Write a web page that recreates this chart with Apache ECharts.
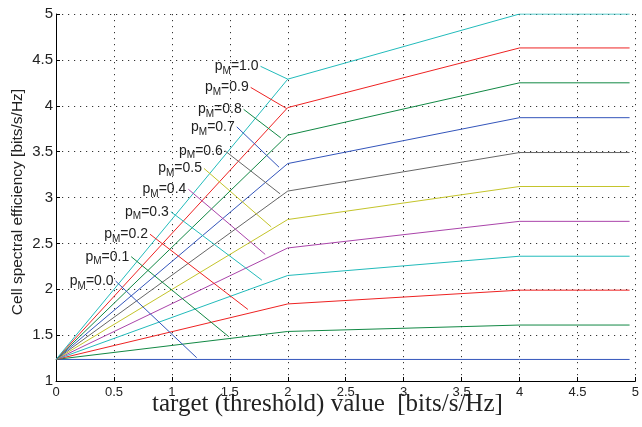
<!DOCTYPE html>
<html>
<head>
<meta charset="utf-8">
<script src="https://cdn.jsdelivr.net/npm/echarts@6/dist/echarts.min.js"></script>
<style>html,body{margin:0;padding:0;background:#fff}#c{width:642px;height:427px}</style>
</head>
<body>
<div id="c"></div>
<script>
// Data
const pmLabels = ['0.0','0.1','0.2','0.3','0.4','0.5','0.6','0.7','0.8','0.9','1.0'];
const xPoints = [0, 2, 4, 4.95];
const yAt0 = [1.235,1.235,1.235,1.235,1.235,1.235,1.235,1.235,1.235,1.235,1.235];
const yAt2 = [1.235,1.54,1.84,2.15,2.45,2.76,3.07,3.37,3.68,3.98,4.29];
const yAt4 = [1.235,1.61,1.99,2.36,2.74,3.12,3.49,3.87,4.25,4.63,5.00];
// annotation leader lines: start (label end) and end (on curve)
const annStartX = [0.514,0.649,0.811,0.991,1.142,1.277,1.457,1.56,1.62,1.68,1.765];
const annStartY = [2.09,2.355,2.60,2.845,3.09,3.317,3.51,3.77,3.96,4.20,4.43];
const annEndX   = [1.214,1.491,1.656,1.776,1.805,1.857,1.934,1.925,1.94,1.99,2.0];
const annEndY   = [1.254,1.483,1.78,2.10,2.38,2.68,3.04,3.33,3.65,3.97,4.29];
const xTicks = ['0','0.5','1','1.5','2','2.5','3','3.5','4','4.5','5'];

const colors = ['#3355bb','#118844','#ee2222','#22bbbb','#aa44aa','#c4c42a','#666666','#3355bb','#118844','#ee2222','#22bbbb'];

const series = [];
pmLabels.forEach((pm, i) => {
  const ys = [yAt0[i], yAt2[i], yAt4[i], yAt4[i]];
  series.push({
    type: 'line', silent: true, symbol: 'none', animation: false,
    lineStyle: {color: colors[i], width: 1},
    data: xPoints.map((x, k) => [x, ys[k]]),
    z: 3
  });
  series.push({
    type: 'line', silent: true, symbol: 'none', animation: false,
    lineStyle: {color: colors[i], width: 1},
    data: [
      {value: [annStartX[i], annStartY[i]],
       symbol: 'circle', symbolSize: 0,
       label: {show: true, position: 'left', distance: 2,
         formatter: '{a|p}{b|M}{a|=' + pm + '}',
         rich: {
           a: {fontSize: 14, fontFamily: 'Liberation Sans, Arial, sans-serif', color: '#222'},
           b: {fontSize: 10, fontFamily: 'Liberation Sans, Arial, sans-serif', color: '#222', padding: [10,0,0,0]}
         }}},
      {value: [annEndX[i], annEndY[i]]}
    ],
    z: 4
  });
});

const chart = echarts.init(document.getElementById('c'), null, {renderer: 'canvas'});
chart.setOption({
  animation: false,
  backgroundColor: '#fff',
  grid: {left: 56, right: 3, top: 14, bottom: 46, containLabel: false},
  xAxis: {
    type: 'value', min: 0, max: 5, interval: 0.5,
    axisLine: {show: true, lineStyle: {color: '#000', width: 1}},
    axisTick: {show: true, inside: true, length: 4, lineStyle: {color: '#000'}},
    axisLabel: {margin: 5, fontSize: 13, color: '#222', fontFamily: 'Liberation Sans, Arial, sans-serif',
      formatter: (v) => xTicks[Math.round(v * 2)]},
    splitLine: {show: true, lineStyle: {color: '#333', width: 1, type: [1.2, 4.8]}}
  },
  yAxis: {
    type: 'value', min: 1, max: 5, interval: 0.5,
    axisLine: {show: true, lineStyle: {color: '#000', width: 1}},
    axisTick: {show: true, inside: true, length: 4, lineStyle: {color: '#000'}},
    axisLabel: {margin: 3, fontSize: 15, color: '#222', fontFamily: 'Liberation Sans, Arial, sans-serif'},
    splitLine: {show: true, lineStyle: {color: '#333', width: 1, type: [1.2, 4.8]}}
  },
  graphic: [
    {type: 'text', left: 152, top: 392, style: {text: 'target (threshold) value  [bits/s/Hz]', font: '25px "Liberation Serif", "Times New Roman", serif', fill: '#222'}},
    {type: 'text', x: 18, y: 202, rotation: Math.PI/2, style: {text: 'Cell spectral efficiency [bits/s/Hz]', font: '15.5px "Liberation Sans", Arial, sans-serif', fill: '#222', align: 'center', verticalAlign: 'middle'}}
  ],
  series: series
});
</script>
</body>
</html>
